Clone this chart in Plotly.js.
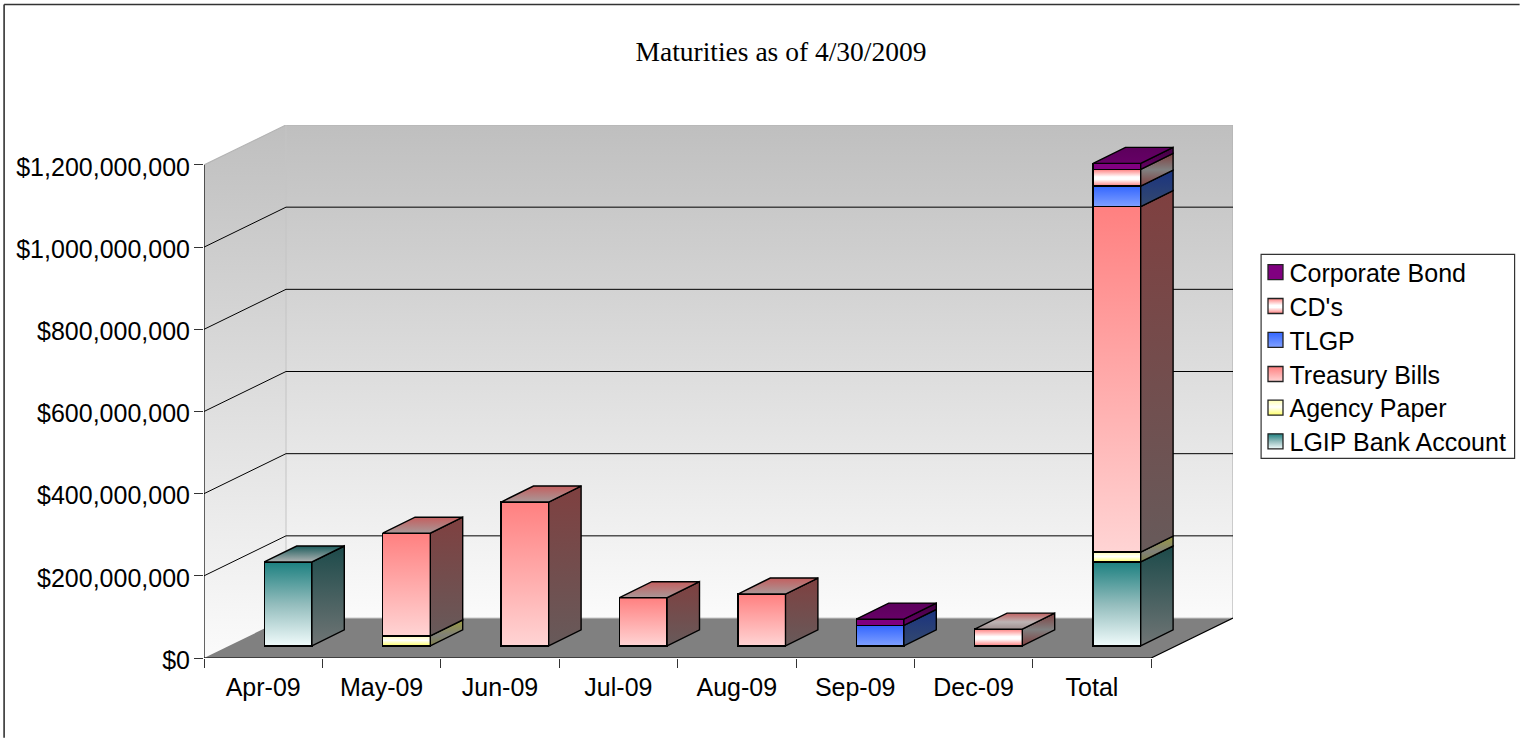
<!DOCTYPE html>
<html>
<head>
<meta charset="utf-8">
<script src="https://cdn.plot.ly/plotly-3.0.1.min.js"></script>
<style>html,body{margin:0;padding:0;background:#fff}#chart{width:1520px;height:738px}</style>
</head>
<body>
<div id="chart"></div>
<script>
// ---- data (dollars) ----
const categories = ["Apr-09","May-09","Jun-09","Jul-09","Aug-09","Sep-09","Dec-09","Total"];
const lgipBankAccount = [204000000,0,0,0,0,0,0,204000000];
const agencyPaper     = [0,24000000,0,0,0,0,0,24000000];
const treasuryBills   = [0,250000000,350000000,117000000,126000000,0,0,841000000];
const tlgp            = [0,0,0,0,0,49500000,0,50000000];
const cds             = [0,0,0,0,0,0,40600000,40600000];
const corporateBond   = [0,0,0,0,0,15500000,0,14600000];
const seriesNames = ["LGIP Bank Account","Agency Paper","Treasury Bills","TLGP","CD's","Corporate Bond"];
const seriesValues = [lgipBankAccount,agencyPaper,treasuryBills,tlgp,cds,corporateBond];
const yTickValues = [0,200000000,400000000,600000000,800000000,1000000000,1200000000];
const yTickLabels = ["$0","$200,000,000","$400,000,000","$600,000,000","$800,000,000","$1,000,000,000","$1,200,000,000"];
const chartTitle = "Maturities as of 4/30/2009";

// ---- styles: [front stops], [side stops], [top stops], top->bottom ----
const looks = [
  {front:[[0,"#1c8080"],[.5,"#92bcbc"],[1,"#f0fbfb"]], side:[[0,"#1c4a4a"],[1,"#707575"]], top:[[0,"#1c5c5c"],[1,"#b0b4b4"]], base:"#1c8080"},
  {front:[[0,"#ffffb0"],[.45,"#ffffff"],[1,"#ffff66"]], side:[[0,"#9a9a40"],[.6,"#808078"],[1,"#80804a"]], top:[[0,"#999940"],[1,"#b0b0a0"]], base:"#ffff80"},
  {front:[[0,"#ff8080"],[1,"#ffd4d4"]], side:[[0,"#7f4040"],[1,"#675a5a"]], top:[[0,"#c45f5f"],[1,"#a89898"]], base:"#ff8080"},
  {front:[[0,"#3366ff"],[1,"#80a0ff"]], side:[[0,"#1a3380"],[1,"#34496e"]], top:[[0,"#1a3380"],[1,"#405080"]], base:"#3366ff"},
  {front:[[0,"#ff8080"],[.45,"#ffffff"],[.6,"#ffffff"],[1,"#ff8080"]], side:[[0,"#804040"],[.5,"#808080"],[1,"#804040"]], top:[[0,"#c06060"],[.55,"#bdb4b4"],[1,"#a09090"]], base:"#ff8080"},
  {front:[[0,"#800080"],[1,"#800080"]], side:[[0,"#400040"],[1,"#660066"]], top:[[0,"#5c005c"],[1,"#660066"]], base:"#800080"}
];

// ---- geometry of the oblique frame ----
const L = 204.4, R = 1233.4, T = 125, B = 658.2, W = 1520, H = 738;
const pxPerCat = 118.4, pxPerDollar = 493.2 / 1.2e9;
const xMin = -0.5, xMax = xMin + (R - L) / pxPerCat, yMax = (B - T) / pxPerDollar;
const wallDx = 82 / pxPerCat, wallDy = 40 / pxPerDollar;
const barShiftX = 24.9 / pxPerCat, barShiftY = 12.2 / pxPerDollar;
const barW = 47.6 / pxPerCat, barDx = 32.4 / pxPerCat, barDy = 16 / pxPerDollar;
const lastEdge = categories.length - 0.5;

function poly(xs, ys, stops, xa, ya, lineColor, lineW) {
  const hi = Math.max(...ys), lo = Math.min(...ys);
  return {type:"scatter", mode:"lines", x:xs.concat(xs[0]), y:ys.concat(ys[0]), xaxis:xa, yaxis:ya,
    fill:"toself", fillgradient:{type:"vertical", start:hi, stop:lo, colorscale:stops},
    line:{color:lineColor, width:lineW}, hoverinfo:"skip", showlegend:false, cliponaxis:false};
}
function seg(xs, ys, color, width) {
  return {type:"scatter", mode:"lines", x:xs, y:ys, line:{color:color, width:width},
    hoverinfo:"skip", showlegend:false, cliponaxis:false};
}

const traces = [];
// real stacked bars (front faces), on an overlay axis pair shifted into the floor
seriesNames.forEach((n, i) => traces.push({
  type:"bar", name:n, x:categories.map((c, k) => k), y:seriesValues[i], width:barW,
  xaxis:"x2", yaxis:"y2", marker:{color:looks[i].base, line:{color:"#000", width:1.4}},
  customdata:categories, hovertemplate:"%{customdata}<br>%{y:$,.0f}<extra>"+n+"</extra>"
}));

// walls and floor
const wallStops = [[0,"#bfbfbf"],[1,"#fbfbfb"]];
traces.push(poly([xMin,xMin+wallDx,xMin+wallDx,xMin],[1.2e9,1.2e9+wallDy,wallDy,0],wallStops,"x","y","rgba(0,0,0,0)",0));
traces.push(poly([xMin+wallDx,xMax,xMax,xMin+wallDx],[yMax,yMax,wallDy,wallDy],wallStops,"x","y","rgba(0,0,0,0)",0));
traces.push(poly([xMin,lastEdge,xMax,xMin+wallDx],[0,0,wallDy,wallDy],[[0,"#808080"],[1,"#808080"]],"x","y","rgba(0,0,0,0)",0));
// wall edges
traces.push(seg([xMin,xMin+wallDx,xMax,xMax],[1.2e9,yMax,yMax,wallDy],"#b4b4b4",1.2));
traces.push(seg([xMin+wallDx,xMin+wallDx],[yMax,wallDy],"#c4c4c4",1));
traces.push(seg([xMin+wallDx,xMax],[wallDy,wallDy],"#c8c8c8",1));
// gridlines
yTickValues.slice(1,-1).forEach(v => {
  traces.push(seg([xMin,xMin+wallDx,xMax],[v,v+wallDy,v+wallDy],"#000",1));
});
// axis lines
traces.push(seg([xMin,xMin],[1.2e9,0],"#000",1.2));
traces.push(seg([xMin,lastEdge,xMax],[0,0,wallDy],"#000",1.2));

// oblique faces of the bars
categories.forEach((c, k) => {
  let sum = 0, topIdx = -1;
  seriesValues.forEach((v, i) => { if (v[k] > 0) topIdx = i; });
  const x0 = k - barW / 2, x1 = k + barW / 2;
  seriesValues.forEach((v, i) => {
    if (!(v[k] > 0)) return;
    const a = sum, b = sum + v[k];
    traces.push(poly([x1,x1+barDx,x1+barDx,x1],[a,a+barDy,b+barDy,b],looks[i].side,"x2","y2","#000",1.4));
    if (i === topIdx) traces.push(poly([x0,x1,x1+barDx,x0+barDx],[b,b,b+barDy,b+barDy],looks[i].top,"x2","y2","#000",1.4));
    sum = b;
  });
});

const pxX = p => (p - L) / (R - L), pxY = p => (B - p) / (B - T);
const axisBase = {showgrid:false, zeroline:false, showline:false, fixedrange:true};
const layout = {
  width:W, height:H, autosize:false, paper_bgcolor:"#fff", plot_bgcolor:"rgba(0,0,0,0)",
  margin:{l:L, r:W-R, t:T, b:H-B, pad:0, autoexpand:false},
  barmode:"stack", showlegend:true,
  font:{family:"Liberation Sans, Arial, sans-serif", size:25, color:"#000"},
  title:{text:chartTitle, x:781/W, xref:"container", xanchor:"center", y:1-51.5/H, yref:"container", yanchor:"middle",
    font:{family:"Liberation Serif, Times New Roman, serif", size:27.5, color:"#000"}},
  xaxis:Object.assign({}, axisBase, {range:[xMin,xMax], tickmode:"array", tickvals:categories.map((c,k)=>k), ticktext:categories,
    ticks:"", ticklabelstandoff:12, tickfont:{size:25},
    minor:{tickmode:"array", tickvals:categories.map((c,k)=>k-0.5).concat(lastEdge), ticks:"outside", ticklen:9, tickwidth:1, tickcolor:"#333", showgrid:false}}),
  yaxis:Object.assign({}, axisBase, {range:[0,yMax], tickmode:"array", tickvals:yTickValues, ticktext:yTickLabels,
    ticks:"outside", ticklen:9, tickwidth:1, tickcolor:"#333", tickfont:{size:25}, ticklabelstandoff:-1, ticklabelshift:2}),
  xaxis2:Object.assign({}, axisBase, {overlaying:"x", visible:false, range:[xMin-barShiftX,xMax-barShiftX]}),
  yaxis2:Object.assign({}, axisBase, {overlaying:"y", visible:false, range:[-barShiftY,yMax-barShiftY]}),
  legend:{xref:"container", yref:"container", x:1261/W, y:1-254.5/H, xanchor:"left", yanchor:"top",
    bgcolor:"rgba(0,0,0,0)", borderwidth:0, traceorder:"reversed", font:{size:25, color:"#000"}, itemclick:false, itemdoubleclick:false},
  shapes:[
    // the frame shows only on its top and left sides
    {type:"line", xref:"paper", yref:"paper", x0:pxX(4.5), x1:pxX(1520), y0:pxY(4.5), y1:pxY(4.5), line:{color:"#333", width:1.6}, layer:"below"},
    {type:"line", xref:"paper", yref:"paper", x0:pxX(4.5), x1:pxX(4.5), y0:pxY(4.5), y1:pxY(738), line:{color:"#333", width:1.6}, layer:"below"},
    {type:"rect", xref:"paper", yref:"paper", x0:pxX(1261.5), x1:pxX(1515), y0:pxY(254.5), y1:pxY(458.5), line:{color:"#333", width:1.2}, fillcolor:"#fff", layer:"below"}
  ]
};

Plotly.newPlot("chart", traces, layout, {staticPlot:false, displayModeBar:false, responsive:false}).then(gd => {
  // Excel-style gradients on the bar fronts and the legend swatches
  const NS = "http://www.w3.org/2000/svg";
  const svg = gd.querySelector(".main-svg");
  const defs = document.createElementNS(NS, "defs");
  svg.insertBefore(defs, svg.firstChild);
  seriesNames.forEach((n, i) => {
    const g = document.createElementNS(NS, "linearGradient");
    g.setAttribute("id", "frontgrad" + i);
    g.setAttribute("x1","0"); g.setAttribute("y1","0"); g.setAttribute("x2","0"); g.setAttribute("y2","1");
    looks[i].front.forEach(s => {
      const st = document.createElementNS(NS, "stop");
      st.setAttribute("offset", s[0]); st.setAttribute("stop-color", s[1]);
      g.appendChild(st);
    });
    defs.appendChild(g);
  });
  gd.querySelectorAll(".barlayer .trace").forEach(t => {
    const i = seriesNames.indexOf(t.__data__[0].trace.name);
    t.querySelectorAll("path").forEach(p => p.style.setProperty("fill", "url(#frontgrad" + i + ")"));
  });
  // legend rows: swatch and spacing of the reference
  const ly = 254.5;
  const rows = [272.2,306,339.8,374,407.7,441.3];
  gd.querySelectorAll(".legend .traces").forEach((t) => {
    const name = t.__data__[0].trace.name;
    const i = seriesNames.indexOf(name);
    t.setAttribute("transform", "translate(0," + (rows[5 - i] - ly) + ")");
    const txt = t.querySelector(".legendtext");
    txt.setAttribute("x", 28.5);
    t.querySelectorAll(".legendpoints path").forEach(p => {
      p.setAttribute("d", "M2,7.5H-13V-7.5H2Z");
      p.style.setProperty("fill", "url(#frontgrad" + i + ")");
      p.style.setProperty("stroke", "#222");
      p.style.setProperty("stroke-width", "1.3px");
    });
  });
});
</script>
</body>
</html>
